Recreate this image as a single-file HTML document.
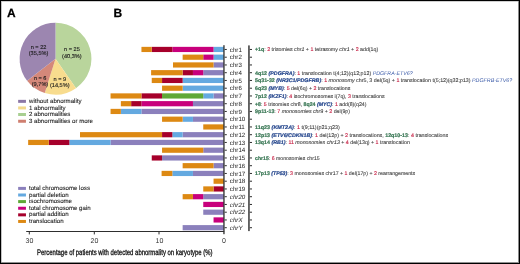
<!DOCTYPE html>
<html><head><meta charset="utf-8"><style>
html,body{margin:0;padding:0;background:#fff;}
body{width:520px;height:264px;position:relative;overflow:hidden;font-family:"Liberation Sans",sans-serif;text-rendering:geometricPrecision;}
#w{position:absolute;left:0;top:0;width:520px;height:264px;will-change:transform;}
svg{position:absolute;left:0;top:0;}
.frame{position:absolute;left:0;top:0;width:520px;height:264px;box-sizing:border-box;border-left:1px solid #000;border-top:1px solid #000;border-right:1.4px solid #000;border-bottom:1.4px solid #000;}
.lbl{position:absolute;font-weight:bold;font-size:12px;line-height:12px;color:#000;-webkit-text-stroke:0.25px #000;}
.cl{position:absolute;left:229.8px;font-size:6.2px;line-height:0;color:#1e1e1e;white-space:nowrap;}
.cl.ital{font-style:italic;}
.an{position:absolute;left:255px;font-size:5.27px;line-height:0;color:#404040;-webkit-text-stroke:0.1px #404040;white-space:nowrap;transform-origin:0 0;}
.an .g{color:#367552;-webkit-text-stroke:0.2px #367552;}
.an .bi{color:#27488e;font-style:italic;-webkit-text-stroke:0.2px #27488e;}
.an .r{color:#c8284a;-webkit-text-stroke:0.15px #c8284a;}
.an .bl{color:#3a5aa8;-webkit-text-stroke:0px;}
.xt{position:absolute;top:241.5px;font-size:7px;line-height:0;color:#333;transform:translateX(-50%);}
.xtitle{position:absolute;left:37.3px;top:252.5px;font-size:8px;line-height:0;color:#111;-webkit-text-stroke:0.3px #111;white-space:nowrap;transform-origin:0 0;transform:scaleX(0.745);}
.pl{position:absolute;font-size:5.6px;line-height:0;color:#1a1a1a;-webkit-text-stroke:0.12px #1a1a1a;text-align:center;transform:translateX(-50%);white-space:nowrap;}
.lg{position:absolute;left:29px;font-size:6.1px;line-height:0;color:#2a2a2a;-webkit-text-stroke:0.12px #2a2a2a;white-space:nowrap;}
</style></head><body>
<div id="w">
<svg width="520" height="264" viewBox="0 0 520 264">
<path d="M55.5,58.75 L55.50,22.85 A35.9,35.9 0 0 1 76.01,88.22 Z" fill="#b9d59c"/>
<path d="M55.5,58.75 L76.01,88.22 A35.9,35.9 0 0 1 44.75,93.00 Z" fill="#f8dc8e"/>
<path d="M55.5,58.75 L44.75,93.00 A35.9,35.9 0 0 1 27.11,80.72 Z" fill="#d4887a"/>
<path d="M55.5,58.75 L27.11,80.72 A35.9,35.9 0 0 1 55.50,22.85 Z" fill="#9c86b0"/>
<rect x="213.55" y="46.85" width="10.30" height="5.2" fill="#64a9e0"/>
<rect x="172.35" y="46.85" width="41.20" height="5.2" fill="#c8007c"/>
<rect x="151.75" y="46.85" width="20.60" height="5.2" fill="#a6002b"/>
<rect x="141.45" y="46.85" width="10.30" height="5.2" fill="#dd8913"/>
<rect x="224.6" y="48.95" width="2.2" height="1" fill="#2e2e2e"/>
<rect x="249.7" y="48.95" width="2.3" height="1" fill="#2e2e2e"/>
<rect x="213.55" y="54.60" width="10.30" height="5.2" fill="#64a9e0"/>
<rect x="203.25" y="54.60" width="10.30" height="5.2" fill="#c8007c"/>
<rect x="182.65" y="54.60" width="20.60" height="5.2" fill="#dd8913"/>
<rect x="224.6" y="56.70" width="2.2" height="1" fill="#2e2e2e"/>
<rect x="249.7" y="56.70" width="2.3" height="1" fill="#2e2e2e"/>
<rect x="213.55" y="62.35" width="10.30" height="5.2" fill="#8b80bc"/>
<rect x="173.00" y="62.35" width="40.55" height="5.2" fill="#dd8913"/>
<rect x="224.6" y="64.45" width="2.2" height="1" fill="#2e2e2e"/>
<rect x="249.7" y="64.45" width="2.3" height="1" fill="#2e2e2e"/>
<rect x="203.25" y="70.10" width="20.60" height="5.2" fill="#8b80bc"/>
<rect x="192.95" y="70.10" width="10.30" height="5.2" fill="#c8007c"/>
<rect x="182.65" y="70.10" width="10.30" height="5.2" fill="#a6002b"/>
<rect x="151.10" y="70.10" width="31.55" height="5.2" fill="#dd8913"/>
<rect x="224.6" y="72.20" width="2.2" height="1" fill="#2e2e2e"/>
<rect x="249.7" y="72.20" width="2.3" height="1" fill="#2e2e2e"/>
<rect x="182.65" y="77.85" width="41.20" height="5.2" fill="#64a9e0"/>
<rect x="162.05" y="77.85" width="20.60" height="5.2" fill="#a6002b"/>
<rect x="151.75" y="77.85" width="10.30" height="5.2" fill="#dd8913"/>
<rect x="224.6" y="79.95" width="2.2" height="1" fill="#2e2e2e"/>
<rect x="249.7" y="79.95" width="2.3" height="1" fill="#2e2e2e"/>
<rect x="182.65" y="85.60" width="41.20" height="5.2" fill="#64a9e0"/>
<rect x="162.05" y="85.60" width="20.60" height="5.2" fill="#dd8913"/>
<rect x="224.6" y="87.70" width="2.2" height="1" fill="#2e2e2e"/>
<rect x="249.7" y="87.70" width="2.3" height="1" fill="#2e2e2e"/>
<rect x="213.55" y="93.35" width="10.30" height="5.2" fill="#8b80bc"/>
<rect x="203.25" y="93.35" width="10.30" height="5.2" fill="#64a9e0"/>
<rect x="162.05" y="93.35" width="41.20" height="5.2" fill="#5fa837"/>
<rect x="141.45" y="93.35" width="20.60" height="5.2" fill="#a6002b"/>
<rect x="110.55" y="93.35" width="30.90" height="5.2" fill="#dd8913"/>
<rect x="224.6" y="95.45" width="2.2" height="1" fill="#2e2e2e"/>
<rect x="249.7" y="95.45" width="2.3" height="1" fill="#2e2e2e"/>
<rect x="192.95" y="101.10" width="30.90" height="5.2" fill="#8b80bc"/>
<rect x="141.45" y="101.10" width="51.50" height="5.2" fill="#c8007c"/>
<rect x="131.15" y="101.10" width="10.30" height="5.2" fill="#a6002b"/>
<rect x="120.85" y="101.10" width="10.30" height="5.2" fill="#dd8913"/>
<rect x="224.6" y="103.20" width="2.2" height="1" fill="#2e2e2e"/>
<rect x="249.7" y="103.20" width="2.3" height="1" fill="#2e2e2e"/>
<rect x="141.45" y="108.85" width="82.40" height="5.2" fill="#8b80bc"/>
<rect x="120.85" y="108.85" width="20.60" height="5.2" fill="#64a9e0"/>
<rect x="110.55" y="108.85" width="10.30" height="5.2" fill="#dd8913"/>
<rect x="224.6" y="110.95" width="2.2" height="1" fill="#2e2e2e"/>
<rect x="249.7" y="110.95" width="2.3" height="1" fill="#2e2e2e"/>
<rect x="192.95" y="116.60" width="30.90" height="5.2" fill="#8b80bc"/>
<rect x="182.65" y="116.60" width="10.30" height="5.2" fill="#64a9e0"/>
<rect x="162.05" y="116.60" width="20.60" height="5.2" fill="#dd8913"/>
<rect x="224.6" y="118.70" width="2.2" height="1" fill="#2e2e2e"/>
<rect x="249.7" y="118.70" width="2.3" height="1" fill="#2e2e2e"/>
<rect x="203.25" y="124.35" width="20.60" height="5.2" fill="#dd8913"/>
<rect x="224.6" y="126.45" width="2.2" height="1" fill="#2e2e2e"/>
<rect x="249.7" y="126.45" width="2.3" height="1" fill="#2e2e2e"/>
<rect x="182.65" y="132.10" width="41.20" height="5.2" fill="#8b80bc"/>
<rect x="172.35" y="132.10" width="10.30" height="5.2" fill="#64a9e0"/>
<rect x="162.05" y="132.10" width="10.30" height="5.2" fill="#a6002b"/>
<rect x="80.00" y="132.10" width="82.05" height="5.2" fill="#dd8913"/>
<rect x="224.6" y="134.20" width="2.2" height="1" fill="#2e2e2e"/>
<rect x="249.7" y="134.20" width="2.3" height="1" fill="#2e2e2e"/>
<rect x="110.55" y="139.85" width="113.30" height="5.2" fill="#8b80bc"/>
<rect x="69.35" y="139.85" width="41.20" height="5.2" fill="#64a9e0"/>
<rect x="48.75" y="139.85" width="20.60" height="5.2" fill="#a6002b"/>
<rect x="28.15" y="139.85" width="20.60" height="5.2" fill="#dd8913"/>
<rect x="224.6" y="141.95" width="2.2" height="1" fill="#2e2e2e"/>
<rect x="249.7" y="141.95" width="2.3" height="1" fill="#2e2e2e"/>
<rect x="203.25" y="147.60" width="20.60" height="5.2" fill="#8b80bc"/>
<rect x="162.05" y="147.60" width="41.20" height="5.2" fill="#dd8913"/>
<rect x="224.6" y="149.70" width="2.2" height="1" fill="#2e2e2e"/>
<rect x="249.7" y="149.70" width="2.3" height="1" fill="#2e2e2e"/>
<rect x="162.05" y="155.35" width="61.80" height="5.2" fill="#8b80bc"/>
<rect x="151.75" y="155.35" width="10.30" height="5.2" fill="#a6002b"/>
<rect x="224.6" y="157.45" width="2.2" height="1" fill="#2e2e2e"/>
<rect x="249.7" y="157.45" width="2.3" height="1" fill="#2e2e2e"/>
<rect x="213.55" y="163.10" width="10.30" height="5.2" fill="#8b80bc"/>
<rect x="182.65" y="163.10" width="30.90" height="5.2" fill="#dd8913"/>
<rect x="224.6" y="165.20" width="2.2" height="1" fill="#2e2e2e"/>
<rect x="249.7" y="165.20" width="2.3" height="1" fill="#2e2e2e"/>
<rect x="192.95" y="170.85" width="30.90" height="5.2" fill="#8b80bc"/>
<rect x="172.35" y="170.85" width="20.60" height="5.2" fill="#64a9e0"/>
<rect x="161.60" y="170.85" width="10.75" height="5.2" fill="#dd8913"/>
<rect x="224.6" y="172.95" width="2.2" height="1" fill="#2e2e2e"/>
<rect x="249.7" y="172.95" width="2.3" height="1" fill="#2e2e2e"/>
<rect x="213.55" y="178.60" width="10.30" height="5.2" fill="#dd8913"/>
<rect x="224.6" y="180.70" width="2.2" height="1" fill="#2e2e2e"/>
<rect x="249.7" y="180.70" width="2.3" height="1" fill="#2e2e2e"/>
<rect x="213.55" y="186.35" width="10.30" height="5.2" fill="#a6002b"/>
<rect x="203.25" y="186.35" width="10.30" height="5.2" fill="#dd8913"/>
<rect x="224.6" y="188.45" width="2.2" height="1" fill="#2e2e2e"/>
<rect x="249.7" y="188.45" width="2.3" height="1" fill="#2e2e2e"/>
<rect x="203.25" y="194.10" width="20.60" height="5.2" fill="#8b80bc"/>
<rect x="192.95" y="194.10" width="10.30" height="5.2" fill="#c8007c"/>
<rect x="182.65" y="194.10" width="10.30" height="5.2" fill="#dd8913"/>
<rect x="224.6" y="196.20" width="2.2" height="1" fill="#2e2e2e"/>
<rect x="249.7" y="196.20" width="2.3" height="1" fill="#2e2e2e"/>
<rect x="203.25" y="201.85" width="20.60" height="5.2" fill="#c8007c"/>
<rect x="224.6" y="203.95" width="2.2" height="1" fill="#2e2e2e"/>
<rect x="249.7" y="203.95" width="2.3" height="1" fill="#2e2e2e"/>
<rect x="203.25" y="209.60" width="20.60" height="5.2" fill="#8b80bc"/>
<rect x="224.6" y="211.70" width="2.2" height="1" fill="#2e2e2e"/>
<rect x="249.7" y="211.70" width="2.3" height="1" fill="#2e2e2e"/>
<rect x="213.55" y="217.35" width="10.30" height="5.2" fill="#c8007c"/>
<rect x="224.6" y="219.45" width="2.2" height="1" fill="#2e2e2e"/>
<rect x="249.7" y="219.45" width="2.3" height="1" fill="#2e2e2e"/>
<rect x="182.65" y="225.10" width="41.20" height="5.2" fill="#8b80bc"/>
<rect x="224.6" y="227.20" width="2.2" height="1" fill="#2e2e2e"/>
<rect x="249.7" y="227.20" width="2.3" height="1" fill="#2e2e2e"/>
<rect x="223.3" y="45.2" width="1.3" height="189" fill="#2e2e2e"/>
<rect x="248.2" y="45.4" width="1.5" height="185.7" fill="#383838"/>
<rect x="26.2" y="231" width="198" height="1" fill="#2e2e2e"/>
<rect x="28.8" y="231" width="1" height="3.4" fill="#2e2e2e"/>
<rect x="93.8" y="231" width="1" height="3.4" fill="#2e2e2e"/>
<rect x="158.5" y="231" width="1" height="3.4" fill="#2e2e2e"/>
<rect x="18.15" y="99.85" width="7.8" height="3.0" fill="#8c77a6"/>
<rect x="18.15" y="106.45" width="7.8" height="3.0" fill="#f3d98c"/>
<rect x="18.15" y="113.0" width="7.8" height="3.0" fill="#a8cf91"/>
<rect x="18.15" y="119.75" width="7.8" height="3.0" fill="#cf7f70"/>
<rect x="18.15" y="186.9" width="7.8" height="3.0" fill="#8b80bc"/>
<rect x="18.15" y="193.5" width="7.8" height="3.0" fill="#64a9e0"/>
<rect x="18.15" y="200.1" width="7.8" height="3.0" fill="#5fa837"/>
<rect x="18.15" y="206.75" width="7.8" height="3.0" fill="#c8007c"/>
<rect x="18.15" y="213.35" width="7.8" height="3.0" fill="#a6002b"/>
<rect x="18.15" y="219.95" width="7.8" height="3.0" fill="#dd8913"/>
<rect x="0" y="0" width="520" height="1" fill="#000"/>
<rect x="0" y="1" width="520" height="1" fill="#d0d0d0"/>
<rect x="0" y="0" width="1" height="264" fill="#000"/>
<rect x="1" y="1" width="1" height="262" fill="#c4c4c4"/>
<rect x="519" y="0" width="1" height="264" fill="#000"/>
<rect x="518" y="1" width="1" height="262" fill="#8a8a8a"/>
<rect x="0" y="263" width="520" height="1" fill="#000"/>
<rect x="1" y="262" width="518" height="1" fill="#909090"/>
</svg>
<div class="lbl" style="left:7px;top:6.9px">A</div>
<div class="lbl" style="left:113.5px;top:6.9px">B</div>
<div class="cl" style="top:50.60px">chr1</div>
<div class="an" style="top:50.45px;transform:scaleX(1.0000)"><b class="g">+1q</b>: <span class="r">2</span> trisomies <i>chr1</i> + <span class="r">1</span> tetrasomy <i>chr1</i> + <span class="r">2</span> add(1q)</div>
<div class="cl" style="top:58.35px">chr2</div>
<div class="cl" style="top:66.10px">chr3</div>
<div class="cl" style="top:73.85px">chr4</div>
<div class="an" style="top:73.70px;transform:scaleX(1.0045)"><b class="g">4q12</b> <b class="bi">(PDGFRA)</b>: <span class="r">1</span> translocation t(4;12)(q12;p12) <i class="bl">PDGFRA-ETV6?</i></div>
<div class="cl" style="top:81.60px">chr5</div>
<div class="an" style="top:81.45px;transform:scaleX(1.0094)"><b class="g">5q31-32</b> <b class="bi">(NR3C1/PDGFRB)</b>: <span class="r">1</span> <i>monosomy</i> chr5, 3 del(5q) + <span class="r">1</span> translocation t(5;12)(q32;p13) <i class="bl">PDGFRB-ETV6?</i></div>
<div class="cl" style="top:89.35px">chr6</div>
<div class="an" style="top:89.20px;transform:scaleX(1.0000)"><b class="g">6q23</b> <b class="bi">(MYB)</b>: <span class="r">5</span> del(6q) + <span class="r">2</span> translocations</div>
<div class="cl" style="top:97.10px">chr7</div>
<div class="an" style="top:96.95px;transform:scaleX(0.9924)"><b class="g">7p12</b> <b class="bi">(IKZF1)</b>: <span class="r">4</span> isochromosomes i(7q), <span class="r">3</span> translocations</div>
<div class="cl" style="top:104.85px">chr8</div>
<div class="an" style="top:104.70px;transform:scaleX(0.9900)"><b class="g">+8</b>: <span class="r">5</span> trisomies chr8, <b class="g">8q24</b> <b class="bi">(MYC)</b>: <span class="r">1</span> add(8)(q24)</div>
<div class="cl" style="top:112.60px">chr9</div>
<div class="an" style="top:112.45px;transform:scaleX(1.0000)"><b class="g">9p11-13</b>: <span class="r">7</span> <i>monosomies chr9</i> + <span class="r">2</span> del(9p)</div>
<div class="cl" style="top:120.35px">chr10</div>
<div class="cl" style="top:128.10px">chr11</div>
<div class="an" style="top:127.95px;transform:scaleX(1.0290)"><b class="g">11q23</b> <b class="bi">(KMT2A)</b>: <span class="r">1</span> t(9;11)(p21;q23)</div>
<div class="cl" style="top:135.85px">chr12</div>
<div class="an" style="top:135.70px;transform:scaleX(1.0094)"><b class="g">12p13</b> <b class="bi">(ETV6/CDKN1B)</b>: <span class="r">1</span> del(12p) + <span class="r">2</span> translocations, <b class="g">12q10-13</b>: <span class="r">4</span> translocations</div>
<div class="cl" style="top:143.60px">chr13</div>
<div class="an" style="top:143.45px;transform:scaleX(1.0000)"><b class="g">13q14</b> <b class="bi">(RB1)</b>: <span class="r">11</span> <i>monosomies chr13</i> + <span class="r">4</span> del(13q) + <span class="r">1</span> translocation</div>
<div class="cl" style="top:151.35px">chr14</div>
<div class="cl" style="top:159.10px">chr15</div>
<div class="an" style="top:158.95px;transform:scaleX(0.9820)"><b class="g">chr15</b>: <span class="r">6</span> monosomies chr15</div>
<div class="cl" style="top:166.85px">chr16</div>
<div class="cl" style="top:174.60px">chr17</div>
<div class="an" style="top:174.45px;transform:scaleX(0.9907)"><b class="g">17p13</b> <b class="bi">(TP53)</b>: <span class="r">3</span> monosomies chr17 + <span class="r">1</span> del(17p) + <span class="r">2</span> rearrangements</div>
<div class="cl" style="top:182.35px">chr18</div>
<div class="cl" style="top:190.10px">chr19</div>
<div class="cl ital" style="top:197.85px">chr20</div>
<div class="cl ital" style="top:205.60px">chr21</div>
<div class="cl ital" style="top:213.35px">chr22</div>
<div class="cl ital" style="top:221.10px">chrX</div>
<div class="cl ital" style="top:228.85px">chrY</div>
<div class="lg" style="top:102.00px">without abnormality</div>
<div class="lg" style="top:108.60px">1 abnormality</div>
<div class="lg" style="top:115.20px">2 abnormalities</div>
<div class="lg" style="top:121.80px">3 abnormalities or more</div>
<div class="lg" style="top:189.00px">total chromosome loss</div>
<div class="lg" style="top:195.60px">partial deletion</div>
<div class="lg" style="top:202.20px">isochromosome</div>
<div class="lg" style="top:208.80px">total chromosome gain</div>
<div class="lg" style="top:215.40px">partial addition</div>
<div class="lg" style="top:222.00px">translocation</div>
<div class="pl" style="left:38.5px;top:48.16px">n = 22</div>
<div class="pl" style="left:38.55px;top:54.26px">(35,5%)</div>
<div class="pl" style="left:71.9px;top:50.46px">n = 25</div>
<div class="pl" style="left:71.9px;top:56.56px">(40,3%)</div>
<div class="pl" style="left:40.2px;top:78.96px">n = 6</div>
<div class="pl" style="left:40px;top:85.06px">(9,7%)</div>
<div class="pl" style="left:59.9px;top:80.06px">n = 9</div>
<div class="pl" style="left:59.75px;top:86.16px">(14,5%)</div>
<div class="xt" style="left:29.4px">30</div>
<div class="xt" style="left:94.4px">20</div>
<div class="xt" style="left:159.4px">10</div>
<div class="xt" style="left:223.9px">0</div>
<div class="xtitle">Percentage of patients with detected abnormality on karyotype (%)</div>
</div>
</body></html>
